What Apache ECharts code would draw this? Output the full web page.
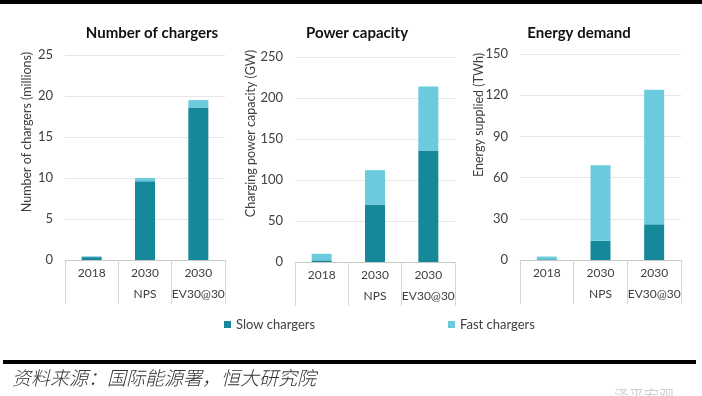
<!DOCTYPE html>
<html>
<head>
<meta charset="utf-8">
<script src="https://cdn.jsdelivr.net/npm/echarts@6/dist/echarts.min.js"></script>
<style>
  html, body { margin: 0; padding: 0; background: #fff; }
  #main { width: 702px; height: 396px; }
</style>
</head>
<body>
<div id="main"></div>
<script>
// categories (two-level axis: year / scenario)
const catYears = ["2018", "2030", "2030"];
const catScenarios = ["", "NPS", "EV30@30"];

// Number of chargers (millions)
const chargersSlow = [0.35, 9.6, 18.6];
const chargersFast = [0.1, 0.4, 0.9];
// Power capacity (GW)
const powerSlow = [2, 70, 136];
const powerFast = [8, 42, 78];
// Energy demand (TWh)
const energySlow = [0.5, 14, 26];
const energyFast = [2, 55, 98];

const panelTitles = ["Number of chargers", "Power capacity", "Energy demand"];
const axisNames = ["Number of chargers (millions)", "Charging power capacity (GW)", "Energy supplied (TWh)"];
const yMax = [25, 250, 150];
const yStep = [5, 50, 30];

const SLOW = "#15889a";
const FAST = "#6bcadb";
const FONT = "Lato";
const TXT = "#404040";

const categories = catYears.map((y, i) => y + "\n" + catScenarios[i]);

let myChart = echarts.init(document.getElementById("main"));

const grids = [
  { left: 65, top: 55, width: 160, height: 205 },
  { left: 295, top: 57, width: 160, height: 205 },
  { left: 520, top: 54, width: 161, height: 206 }
];

const xAxes = grids.map((g, i) => ({
  type: "category",
  gridIndex: i,
  data: categories,
  axisLine: { lineStyle: { color: "#c8c8c8" } },
  axisTick: { show: true, length: 44, interval: 0, lineStyle: { color: "#d6d6d6" } },
  axisLabel: {
    interval: 0,
    margin: 3,
    color: TXT,
    fontFamily: FONT,
    fontSize: 12,
    lineHeight: 21
  }
}));

const yAxes = grids.map((g, i) => ({
  type: "value",
  gridIndex: i,
  min: 0,
  max: yMax[i],
  interval: yStep[i],
  axisLine: { show: false },
  axisTick: { show: false },
  splitLine: { lineStyle: { color: "#e6e6e6" } },
  axisLabel: { color: TXT, fontFamily: FONT, fontSize: 13, margin: 12 }
}));

const slowSets = [chargersSlow, powerSlow, energySlow];
const fastSets = [chargersFast, powerFast, energyFast];
let series = [];
grids.forEach((g, i) => {
  series.push({
    name: "Slow chargers",
    type: "bar",
    stack: "s" + i,
    xAxisIndex: i,
    yAxisIndex: i,
    barWidth: 20,
    itemStyle: { color: SLOW },
    data: slowSets[i]
  });
  series.push({
    name: "Fast chargers",
    type: "bar",
    stack: "s" + i,
    xAxisIndex: i,
    yAxisIndex: i,
    barWidth: 20,
    itemStyle: { color: FAST },
    data: fastSets[i]
  });
});

// titles and rotated axis names
const titlePos = [[152, 33], [357, 33], [579, 33]];
const namePos = [[27, 52], [251, 50], [479, 53]];
let graphics = [];
panelTitles.forEach((t, i) => {
  graphics.push({
    type: "text",
    x: titlePos[i][0],
    y: titlePos[i][1],
    style: {
      text: t,
      fill: "#111",
      font: "bold 15px " + FONT,
      textAlign: "center",
      textVerticalAlign: "middle"
    }
  });
  graphics.push({
    type: "text",
    x: namePos[i][0],
    y: namePos[i][1],
    rotation: Math.PI / 2,
    style: {
      text: axisNames[i],
      fill: TXT,
      font: "12.5px " + FONT,
      textAlign: "right",
      textVerticalAlign: "middle"
    }
  });
});
// black rules and source note
graphics.push({ type: "rect", shape: { x: 0, y: 0, width: 702, height: 4 }, style: { fill: "#000" } });
graphics.push({ type: "rect", shape: { x: 3, y: 360, width: 693, height: 4 }, style: { fill: "#000" } });
graphics.push({
  type: "text",
  x: 12,
  y: 378,
  style: {
    text: "资料来源：国际能源署，恒大研究院",
    fill: "#333",
    font: "italic 300 19px 'Noto Sans CJK SC'",
    textVerticalAlign: "middle"
  }
});
graphics.push({
  type: "text",
  x: 614,
  y: 395,
  style: {
    text: "泽平宏观",
    fill: "#d0d0d0",
    font: "15px 'Noto Sans CJK SC'",
    textVerticalAlign: "middle"
  }
});

let option = {
  animation: false,
  backgroundColor: "#fff",
  grid: grids,
  xAxis: xAxes,
  yAxis: yAxes,
  legend: [
    {
      data: ["Slow chargers"],
      left: 219,
      top: 313,
      itemWidth: 7,
      itemHeight: 7,
      icon: "rect",
      selectedMode: false,
      textStyle: { color: TXT, fontFamily: FONT, fontSize: 13 }
    },
    {
      data: ["Fast chargers"],
      left: 443,
      top: 313,
      itemWidth: 7,
      itemHeight: 7,
      icon: "rect",
      selectedMode: false,
      textStyle: { color: TXT, fontFamily: FONT, fontSize: 13 }
    }
  ],
  graphic: graphics,
  series: series
};
myChart.setOption(option);
</script>
</body>
</html>
